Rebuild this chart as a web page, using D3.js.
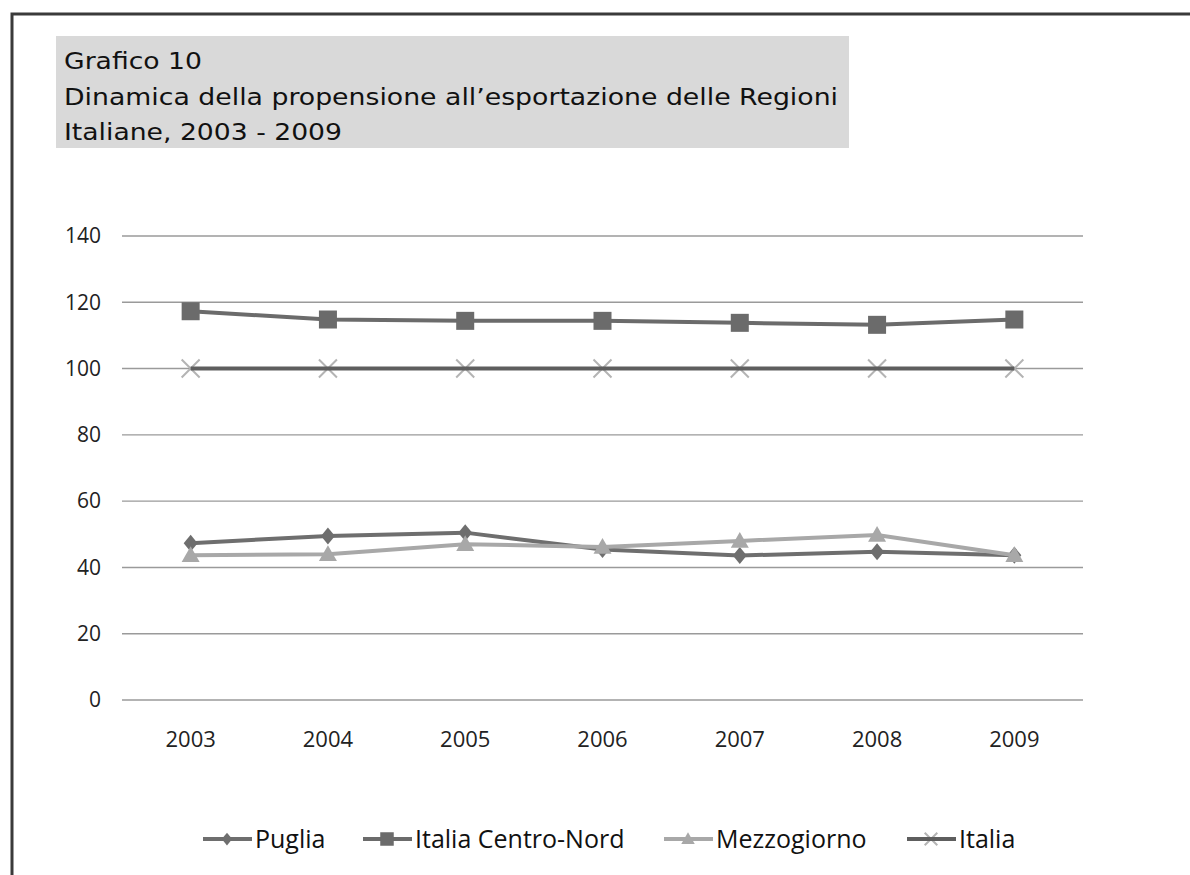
<!DOCTYPE html>
<html>
<head>
<meta charset="utf-8">
<script src="https://cdn.jsdelivr.net/npm/d3@7"></script>
<style>
  body { margin: 0; background: #fff; }
  text { font-family: "Open Sans", "DejaVu Sans", sans-serif; }
</style>
</head>
<body>
<div id="container"></div>
<script>
// data
var years = ["2003", "2004", "2005", "2006", "2007", "2008", "2009"];
var puglia = [47.3, 49.5, 50.5, 45.4, 43.6, 44.7, 43.7];
var centroNord = [117.3, 114.8, 114.4, 114.4, 113.8, 113.2, 114.8];
var mezzogiorno = [43.7, 44.0, 47.0, 46.2, 48.0, 49.8, 43.7];
var italia = [100, 100, 100, 100, 100, 100, 100];
var yTicks = [0, 20, 40, 60, 80, 100, 120, 140];
var titleLines = ["Grafico 10",
  "Dinamica della propensione all\u2019esportazione delle Regioni",
  "Italiane, 2003 - 2009"];
var titleWidths = [138, 774, 278];

var series = [
  {name: "Puglia", values: puglia, line: "#6e6e6e", mark: "#6e6e6e", symbol: "diamond"},
  {name: "Italia Centro-Nord", values: centroNord, line: "#6b6b6b", mark: "#6b6b6b", symbol: "square"},
  {name: "Mezzogiorno", values: mezzogiorno, line: "#a8a8a8", mark: "#a8a8a8", symbol: "triangle"},
  {name: "Italia", values: italia, line: "#5e5e5e", mark: "#b4b4b4", symbol: "x"}
];

var W = 1190, H = 875;
var svg = d3.select("#container").append("svg")
    .attr("width", W).attr("height", H);

// frame
svg.append("rect")
    .attr("x", 12).attr("y", 14)
    .attr("width", W + 20).attr("height", H + 20)
    .attr("fill", "none").attr("stroke", "#3a3a3a").attr("stroke-width", 3);

// title box
svg.append("rect")
    .attr("x", 56).attr("y", 36).attr("width", 793).attr("height", 112)
    .attr("fill", "#d9d9d9");
svg.selectAll(".title").data(titleLines).enter().append("text")
    .attr("class", "title")
    .attr("x", 64)
    .attr("y", function(d, i) { return 69 + i * 35.5; })
    .attr("font-size", 23)
    .attr("fill", "#111")
    .style("font-family", "'DejaVu Sans', sans-serif")
    .attr("textLength", function(d, i) { return titleWidths[i]; })
    .attr("lengthAdjust", "spacingAndGlyphs")
    .text(function(d) { return d; });

// scales
var x = d3.scaleBand().domain(years).range([122, 1083]);
var y = d3.scaleLinear().domain([0, 140]).range([700, 236]);

// gridlines
svg.append("g").selectAll("line").data(yTicks).enter().append("line")
    .attr("x1", 122).attr("x2", 1083)
    .attr("y1", function(d) { return y(d); })
    .attr("y2", function(d) { return y(d); })
    .attr("stroke", "#9a9a9a").attr("stroke-width", 1.4);

// y axis labels
var yAxis = svg.append("g")
    .attr("transform", "translate(101,0)")
    .call(d3.axisLeft(y).tickValues(yTicks).tickSize(0).tickPadding(0));
yAxis.select(".domain").remove();
yAxis.selectAll("text").attr("font-size", 21).attr("fill", "#222")
    .style("font-family", "'Open Sans', sans-serif");

// x axis labels
var xAxis = svg.append("g")
    .attr("transform", "translate(0,731)")
    .call(d3.axisBottom(x).tickSize(0).tickPadding(0));
xAxis.select(".domain").remove();
xAxis.selectAll("text").attr("font-size", 22).attr("fill", "#222")
    .style("font-family", "'Open Sans', sans-serif");

function cx(i) { return x(years[i]) + x.bandwidth() / 2; }

function drawMarker(g, s, px, py, scale) {
  var k = scale || 1;
  if (s.symbol === "diamond") {
    var r = 8.5 * k;
    g.append("path")
      .attr("d", "M" + px + "," + (py - r) + "L" + (px + r * 0.82) + "," + py +
                 "L" + px + "," + (py + r) + "L" + (px - r * 0.82) + "," + py + "Z")
      .attr("fill", s.mark);
  } else if (s.symbol === "square") {
    var h = 9 * k;
    g.append("rect").attr("x", px - h).attr("y", py - h)
      .attr("width", 2 * h).attr("height", 2 * h).attr("fill", s.mark);
  } else if (s.symbol === "triangle") {
    var t = 9 * k;
    g.append("path")
      .attr("d", "M" + px + "," + (py - t) + "L" + (px + t) + "," + (py + t * 0.75) +
                 "L" + (px - t) + "," + (py + t * 0.75) + "Z")
      .attr("fill", s.mark);
  } else {
    var c = 9 * k;
    g.append("path")
      .attr("d", "M" + (px - c) + "," + (py - c) + "L" + (px + c) + "," + (py + c) +
                 "M" + (px - c) + "," + (py + c) + "L" + (px + c) + "," + (py - c))
      .attr("stroke", s.mark).attr("stroke-width", 2).attr("fill", "none");
  }
}

var line = d3.line()
    .x(function(d, i) { return cx(i); })
    .y(function(d) { return y(d); });

series.forEach(function(s) {
  var g = svg.append("g");
  if (s.symbol === "x") {
    s.values.forEach(function(v, i) { drawMarker(g, s, cx(i), y(v)); });
  }
  g.append("path")
    .datum(s.values)
    .attr("d", line)
    .attr("fill", "none")
    .attr("stroke", s.line)
    .attr("stroke-width", 4);
  if (s.symbol !== "x") {
    s.values.forEach(function(v, i) { drawMarker(g, s, cx(i), y(v)); });
  }
});

// legend
var legendX = [203, 363, 664, 907];
var legendY = 839;
series.forEach(function(s, i) {
  var g = svg.append("g");
  var lx = legendX[i];
  if (s.symbol === "x") drawMarker(g, s, lx + 24, legendY, 0.7);
  g.append("line").attr("x1", lx).attr("x2", lx + 49)
    .attr("y1", legendY).attr("y2", legendY)
    .attr("stroke", s.line).attr("stroke-width", 4);
  if (s.symbol !== "x") drawMarker(g, s, lx + 24, legendY, 0.75);
  g.append("text")
    .attr("x", lx + 52).attr("y", legendY + 9)
    .attr("font-size", 25).attr("fill", "#111")
    .text(s.name);
});
</script>
</body>
</html>
